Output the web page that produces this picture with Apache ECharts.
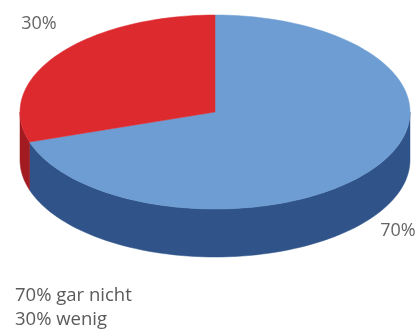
<!DOCTYPE html>
<html>
<head>
<meta charset="utf-8">
<script src="https://cdn.jsdelivr.net/npm/echarts@6/dist/echarts.min.js"></script>
<style>
  html, body { margin: 0; padding: 0; background: #ffffff; }
  #chart { width: 420px; height: 334px; }
</style>
</head>
<body>
<div id="chart"></div>
<script>
// Answers and their shares in percent
const categories = ['gar nicht', 'wenig'];
const shares = [70, 30];

// Face colours (top) and wall colours (side) per slice
const topColors = ['#6d9dd3', '#dc2a2f'];
const sideColors = ['#30548a', '#a11b20'];

// Tilted-disc geometry
const CX = 215, CY = 112, RX = 195, RY = 97, DEPTH = 48;
const LABEL_POS = [[398, 231], [39, 24]];
const FONT = '"Open Sans", "Liberation Sans", sans-serif';

const total = shares.reduce((a, b) => a + b, 0);

// Slices run clockwise from 12 o'clock; angles in degrees, maths convention
function sliceAngles(i) {
  let start = 90;
  for (let j = 0; j < i; j++) start -= shares[j] / total * 360;
  const end = start - shares[i] / total * 360;
  return [end, start];
}
function pt(a, dy) {
  const r = a * Math.PI / 180;
  return [CX + RX * Math.cos(r), CY - RY * Math.sin(r) + dy];
}
function arc(a1, a2, dy) {
  const pts = [];
  const n = Math.max(2, Math.ceil(Math.abs(a2 - a1) / 2));
  for (let k = 0; k <= n; k++) pts.push(pt(a1 + (a2 - a1) * k / n, dy));
  return pts;
}

function renderWall(params, api) {
  const i = api.value(1);
  const [a1, a2] = sliceAngles(i);
  const children = [];
  // front half of the disc lies between 180 and 360 degrees (mod 360)
  for (let k = -2; k <= 1; k++) {
    const lo = Math.max(a1, 180 + 360 * k);
    const hi = Math.min(a2, 360 + 360 * k);
    if (hi > lo) {
      const pts = arc(lo, hi, 0).concat(arc(hi, lo, DEPTH));
      children.push({
        type: 'polygon',
        shape: { points: pts },
        style: { fill: sideColors[i], stroke: sideColors[i], lineWidth: 0.5 }
      });
    }
  }
  return { type: 'group', children };
}

function renderTop(params, api) {
  const i = api.value(1);
  const v = api.value(0);
  const [a1, a2] = sliceAngles(i);
  const pts = [[CX, CY]].concat(arc(a1, a2, 0));
  return {
    type: 'group',
    children: [
      {
        type: 'polygon',
        shape: { points: pts },
        style: { fill: topColors[i], stroke: topColors[i], lineWidth: 0.5 }
      },
      {
        type: 'text',
        x: LABEL_POS[i][0],
        y: LABEL_POS[i][1],
        style: {
          text: v + '%',
          fill: '#666666',
          font: '18px ' + FONT,
          align: 'center',
          verticalAlign: 'middle'
        }
      }
    ]
  };
}

const sliceData = shares.map((v, i) => [v, i]);

const chart = echarts.init(document.getElementById('chart'), null, { renderer: 'canvas' });
chart.setOption({
  animation: false,
  backgroundColor: '#ffffff',
  series: [
    { type: 'custom', coordinateSystem: 'none', renderItem: renderWall, data: sliceData, z: 1 },
    { type: 'custom', coordinateSystem: 'none', renderItem: renderTop, data: sliceData, z: 2 }
  ],
  graphic: categories.map((c, i) => ({
    type: 'text',
    left: 15,
    top: 286 + i * 24,
    style: {
      text: shares[i] + '% ' + c,
      fill: '#5a5a5a',
      font: '18.5px ' + FONT
    }
  }))
});
</script>
</body>
</html>
